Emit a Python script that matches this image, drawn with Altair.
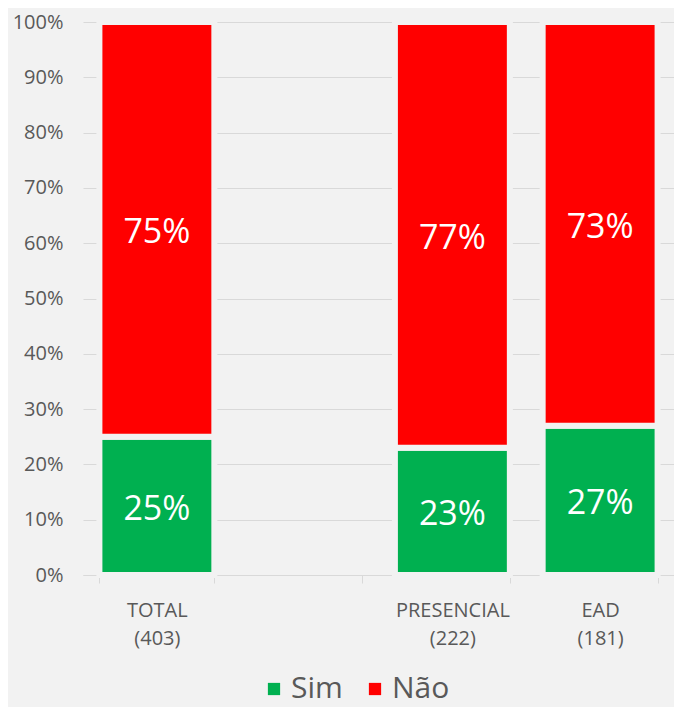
import altair as alt
import pandas as pd

# ---- data ----
categories = ["TOTAL|(403)", " ", "PRESENCIAL|(222)", "EAD|(181)"]
bar_categories = ["TOTAL|(403)", "PRESENCIAL|(222)", "EAD|(181)"]
sim_values = [25, 23, 27]
nao_values = [75, 77, 73]
series = ["Sim", "Não"]
series_colors = ["#00b050", "#ff0000"]
y_ticks = [0, 10, 20, 30, 40, 50, 60, 70, 80, 90, 100]

rows = []
for c, s, n in zip(bar_categories, sim_values, nao_values):
    rows.append({"cat": c, "serie": series[0], "ord": 0, "value": s})
    rows.append({"cat": c, "serie": series[1], "ord": 1, "value": n})
df = pd.DataFrame(rows)

BG = "#f2f2f2"
GRAY = "#595959"
FONT = "Open Sans"

x_scale = alt.Scale(domain=categories, paddingInner=0.222, paddingOuter=0.111)

x_enc = alt.X(
    "cat:N",
    scale=x_scale,
    axis=alt.Axis(
        title=None,
        labelExpr="split(datum.label, '|')",
        labelAngle=0,
        labelFont=FONT,
        labelFontSize=20,
        labelColor=GRAY,
        labelLineHeight=28,
        labelPadding=17,
        ticks=True,
        tickSize=8,
        tickColor="#d9d9d9",
        tickBand="extent",
        domainColor="#d9d9d9",
        grid=False,
    ),
)

y_scale = alt.Scale(domain=[0, 100], nice=False)

bars = alt.Chart(df).mark_bar(stroke=BG, strokeWidth=6).encode(
    x=x_enc,
    y=alt.Y(
        "value:Q",
        stack="zero",
        scale=y_scale,
        axis=alt.Axis(
            title=None,
            values=y_ticks,
            labelExpr="datum.value + '%'",
            labelFont=FONT,
            labelFontSize=20,
            labelColor=GRAY,
            labelPadding=20,
            ticks=False,
            domain=False,
            grid=True,
            gridColor="#d9d9d9",
            gridWidth=1,
        ),
    ),
    color=alt.Color(
        "serie:N",
        scale=alt.Scale(domain=series, range=series_colors),
        legend=alt.Legend(
            title=None,
            orient="none",
            legendX=176,
            legendY=652,
            direction="horizontal",
            symbolType="square",
            symbolSize=150,
            symbolStrokeWidth=0,
            labelFont=FONT,
            labelFontSize=30,
            labelColor=GRAY,
            labelOffset=2,
            columnPadding=17,
        ),
    ),
    order=alt.Order("ord:Q"),
)

labels = (
    alt.Chart(df)
    .transform_stack(
        stack="value",
        groupby=["cat"],
        as_=["y0", "y1"],
        sort=[alt.SortField("ord", order="ascending")],
    )
    .transform_calculate(mid="(datum.y0 + datum.y1) / 2", txt="datum.value + '%'")
    .mark_text(color="white", font=FONT, fontSize=34, baseline="middle", dy=4)
    .encode(
        x=alt.X("cat:N", scale=x_scale),
        y=alt.Y("mid:Q", scale=y_scale),
        text="txt:N",
    )
)

chart = (
    alt.layer(bars, labels)
    .properties(
        width=591,
        height=553,
        padding={"left": 75, "top": 14, "right": 0, "bottom": 132},
        autosize=alt.AutoSizeParams(type="none"),
    )
    .configure(background=BG)
    .configure_view(stroke=None)
)

chart.save("out.html", embed_options={"renderer": "svg", "actions": False})
